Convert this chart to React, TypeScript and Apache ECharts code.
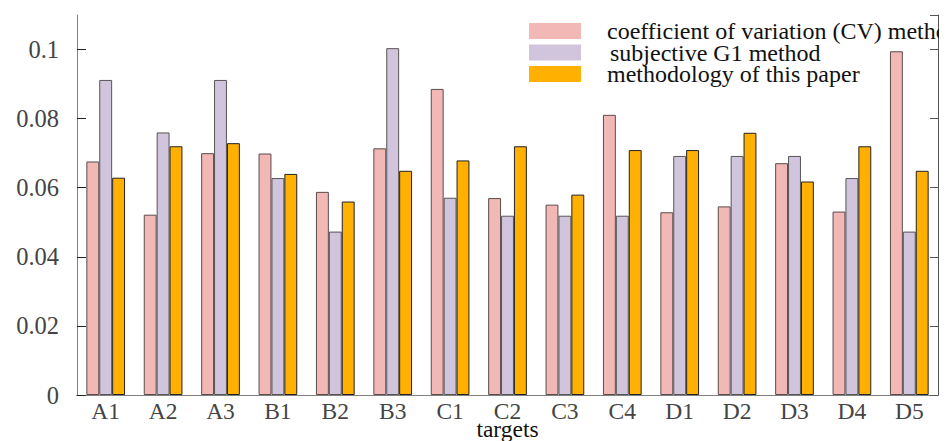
import React, { useEffect, useRef } from "react";
import * as echarts from "echarts";

const categories = ["A1", "A2", "A3", "B1", "B2", "B3", "C1", "C2", "C3", "C4", "D1", "D2", "D3", "D4", "D5"];
const seriesNames = [
  "coefficient of variation (CV) method",
  "subjective G1 method",
  "methodology of this paper",
];
const cvValues = [0.0676, 0.0522, 0.07, 0.0699, 0.0588, 0.0714, 0.0886, 0.057, 0.0551, 0.0811, 0.0529, 0.0546, 0.0671, 0.0531, 0.0995];
const g1Values = [0.0912, 0.076, 0.0912, 0.0628, 0.0473, 0.1004, 0.0571, 0.0519, 0.0519, 0.0519, 0.0692, 0.0692, 0.0692, 0.0628, 0.0473];
const paperValues = [0.0629, 0.072, 0.0729, 0.064, 0.056, 0.0649, 0.0679, 0.072, 0.058, 0.0709, 0.0709, 0.0759, 0.0618, 0.072, 0.0649];
const xAxisTitle = "targets";

const colors = ["#F2B8B5", "#D1C4DD", "#FFB000"];
const borders = ["#5a4c4c", "#555555", "#222222"];

export default function App() {
  const ref = useRef<HTMLDivElement>(null);
  useEffect(() => {
    if (!ref.current) return;
    const chart = echarts.init(ref.current, null, { renderer: "svg" });
    const font = "Liberation Serif";
    const values = [cvValues, g1Values, paperValues];
    chart.setOption({
      animation: false,
      textStyle: { fontFamily: font },
      grid: { left: 77, right: 1, top: 15, bottom: 46, containLabel: false, outerBoundsMode: "none" },
      legend: {
        orient: "vertical",
        left: 529,
        top: 19,
        padding: 0,
        itemWidth: 52,
        itemHeight: 16,
        itemGap: -2.5,
        icon: "rect",
        itemStyle: { borderWidth: 0 },
        textStyle: {
          fontFamily: font,
          fontSize: 24,
          color: "#111",
          padding: [0, 0, 0, 21],
        },
        data: seriesNames.map((n, i) => ({
          name: n,
          textStyle: i === 1 ? { padding: [0, 0, 0, 24] } : undefined,
        })),
      },
      xAxis: [
        {
          type: "category",
          data: categories,
          position: "bottom",
          name: xAxisTitle,
          nameLocation: "middle",
          nameGap: 22,
          nameMoveOverlap: false,
          nameTextStyle: { fontFamily: font, fontSize: 23.5, color: "#111" },
          axisLine: { lineStyle: { color: "#111", width: 1 } },
          axisTick: { inside: true, alignWithLabel: true, length: 5, lineStyle: { color: "#555" } },
          axisLabel: { fontFamily: font, fontSize: 23.5, color: "#444", margin: 4 },
        },
        {
          type: "category",
          data: categories,
          position: "top",
          axisLine: { lineStyle: { color: "#808080", width: 1 } },
          axisTick: { inside: true, alignWithLabel: true, length: 5, lineStyle: { color: "#555" } },
          axisLabel: { show: false },
        },
      ],
      yAxis: [
        {
          type: "value",
          min: 0,
          max: 0.11,
          interval: 0.02,
          position: "left",
          splitLine: { show: false },
          axisLine: { show: true, lineStyle: { color: "#808080", width: 1 } },
          axisTick: { show: true, inside: true, length: 9, lineStyle: { color: "#222" } },
          axisLabel: {
            fontFamily: font,
            fontSize: 24.5,
            color: "#444",
            margin: 18,
            showMaxLabel: false,
            formatter: (v: number) => String(Math.round(v * 1000) / 1000),
          },
        },
        {
          type: "value",
          min: 0,
          max: 0.11,
          interval: 0.02,
          position: "right",
          splitLine: { show: false },
          axisLine: { show: true, lineStyle: { color: "#555", width: 1 } },
          axisTick: { show: true, inside: true, length: 8, lineStyle: { color: "#555" } },
          axisLabel: { show: false },
        },
      ],
      series: seriesNames.map((n, i) => ({
        name: n,
        type: "bar",
        data: values[i],
        barWidth: 12.9,
        barGap: "0%",
        itemStyle: { color: colors[i], borderColor: borders[i], borderWidth: 1 },
      })),
    });
    return () => chart.dispose();
  }, []);
  return (
    <div
      ref={ref}
      style={{ position: "fixed", left: 0, top: 0, width: 939, height: 441, background: "#fff" }}
    />
  );
}
